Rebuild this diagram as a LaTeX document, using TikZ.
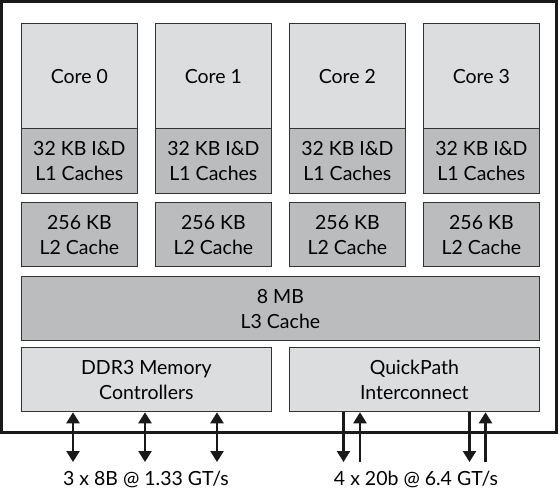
\documentclass[tikz,border=0pt]{standalone}
\usepackage{fontspec}
\setmainfont{Lato}
\usetikzlibrary{arrows.meta}
\definecolor{lightbox}{HTML}{DCDDDF}
\definecolor{darkbox}{HTML}{BBBCBE}
\definecolor{edge}{HTML}{333333}
\tikzset{
  blk/.style={draw=edge, line width=1.3pt, inner sep=0pt, anchor=north west,
    align=center, font=\fontsize{19.5}{25}\selectfont, text=black},
  corebox/.style={blk, fill=lightbox, minimum width=115.5pt, minimum height=105pt},
  lonebox/.style={blk, fill=darkbox, minimum width=115.5pt, minimum height=65pt},
  ltwobox/.style={blk, fill=darkbox, minimum width=115.5pt, minimum height=64pt},
  link/.style={line width=2.4pt, color=black!90, >={Triangle[width=13pt,length=11pt]}},
  lbl/.style={font=\fontsize{19.5}{25}\selectfont, text=black}
}
\begin{document}
\begin{tikzpicture}[x=1pt,y=-1pt]
\useasboundingbox (0,0) rectangle (560,491);
\fill[white] (0,0) rectangle (560,491);
\draw[line width=3pt, color=black!90] (1.5,1.5) rectangle (556.5,432);
\foreach \i in {0,1,2,3}{
  \node[corebox] (core\i) at ({21+134*\i},23) {Core \i};
  \node[lonebox] (lone\i) at ({21+134*\i},128) {32 KB I\&D\\L1 Caches};
  \node[ltwobox] (ltwo\i) at ({21+134*\i},202) {256 KB\\L2 Cache};
}
\node[blk, fill=darkbox, minimum width=517.5pt, minimum height=64pt] (lthree) at (21,276) {8 MB\\L3 Cache};
\node[blk, fill=lightbox, minimum width=249.5pt, minimum height=64pt] (ddr) at (21,347) {DDR3 Memory\\Controllers};
\node[blk, fill=lightbox, minimum width=249.5pt, minimum height=64pt] (qpi) at (289,347) {QuickPath\\Interconnect};
% free ends
\coordinate (da) at (73,462);
\coordinate (db) at (145,462);
\coordinate (dc) at (217,462);
\coordinate (qa) at (343.5,462);
\coordinate (qb) at (360,462);
\coordinate (qc) at (469.5,462);
\coordinate (qd) at (485.5,462);
\draw[link, <->] (ddr.south -| da) -- (da);
\draw[link, <->] (ddr.south -| db) -- (db);
\draw[link, <->] (ddr.south -| dc) -- (dc);
\draw[link, ->] (qpi.south -| qa) -- (qa);
\draw[link, ->] (qb) -- (qpi.south -| qb);
\draw[link, ->] (qpi.south -| qc) -- (qc);
\draw[link, ->] (qd) -- (qpi.south -| qd);
\node[lbl] (ddrlbl) at (146,479) {3 x 8B @ 1.33 GT/s};
\node[lbl] (qpilbl) at (416,479) {4 x 20b @ 6.4 GT/s};
\end{tikzpicture}
\end{document}
